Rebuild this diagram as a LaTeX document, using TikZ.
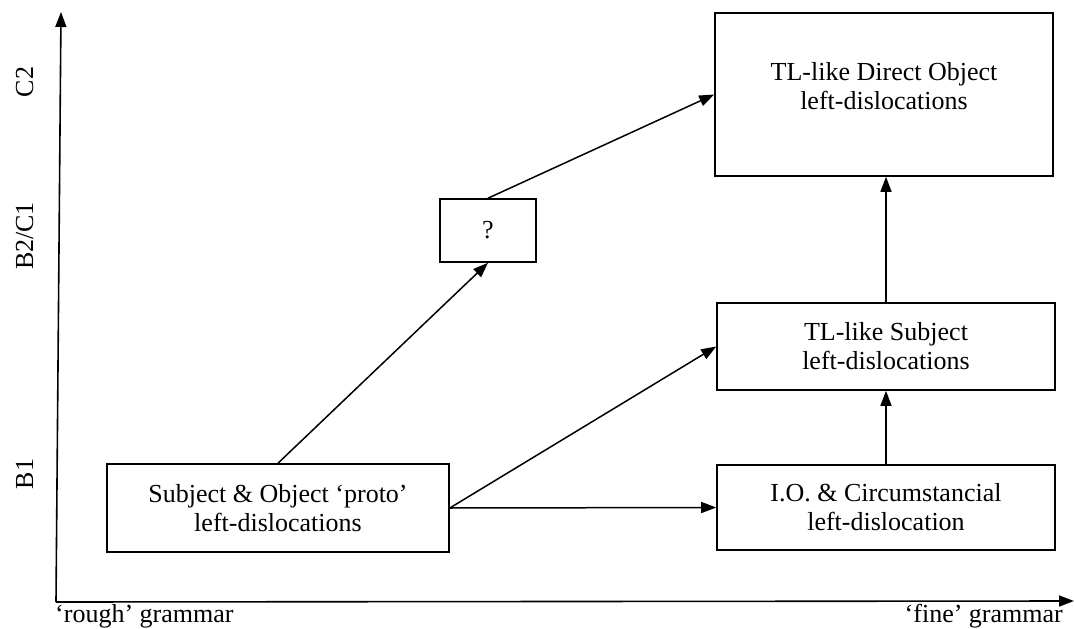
\documentclass[tikz,border=0pt]{standalone}
\usepackage{fontspec}
\setmainfont{Liberation Serif}
\usetikzlibrary{arrows.meta}
\tikzset{
  box/.style={draw, line width=1.6pt, align=center, inner sep=0pt, font=\fontsize{26}{29}\selectfont},
  txt/.style={align=center, inner sep=0pt, font=\fontsize{26}{29}\selectfont},
  conn/.style={line width=1.5pt, -{Triangle[length=15pt,width=11pt]}},
  lab/.style={font=\fontsize{26}{29}\selectfont, inner sep=0pt},
}
\begin{document}
\begin{tikzpicture}[x=1pt,y=-1pt]
\useasboundingbox (0,0) rectangle (1074,629);
% axes
\coordinate (o) at (56,602);
\coordinate (ytop) at (61,12);
\coordinate (xend) at (1074,601);
\draw[conn, line width=1.6pt] (o) -- (ytop);
\draw[conn, line width=1.6pt] (o) -- (xend);
\node[lab, rotate=90, anchor=base] (c2) at (33,82) {C2};
\node[lab, rotate=90, anchor=base] (b2c1) at (33,236) {B2/C1};
\node[lab, rotate=90, anchor=base] (b1) at (33,474) {B1};
\node[lab, anchor=north west] (rough) at (55,604) {‘rough’ grammar};
\node[lab, anchor=north east] (fine) at (1063,604) {‘fine’ grammar};
% boxes
\node[box, minimum width=342pt, minimum height=88pt] (A) at (278,508) {Subject \& Object ‘proto’\\left-dislocations};
\node[box, minimum width=338pt, minimum height=85pt] (B) at (886,507.5) {I.O. \& Circumstancial\\left-dislocation};
\node[box, minimum width=338pt, minimum height=87pt] (C) at (886,346.5) {TL-like Subject\\left-dislocations};
\node[box, minimum width=96pt, minimum height=63pt] (D) at (488,230.5) {?};
\node[box, minimum width=338pt, minimum height=163pt] (E) at (884,94.5) {};
\node[txt] (Et) at (884,86) {TL-like Direct Object\\left-dislocations};
% connectors
\draw[conn] (A.east) -- (B.west);
\draw[conn] (A.east) -- (C.west);
\draw[conn] (A.north) -- (D.south);
\draw[conn] (D.north) -- (E.west);
\draw[conn] (B.north) -- (C.south);
\draw[conn] (C.north) -- (E.south -| C.north);
\end{tikzpicture}
\end{document}
